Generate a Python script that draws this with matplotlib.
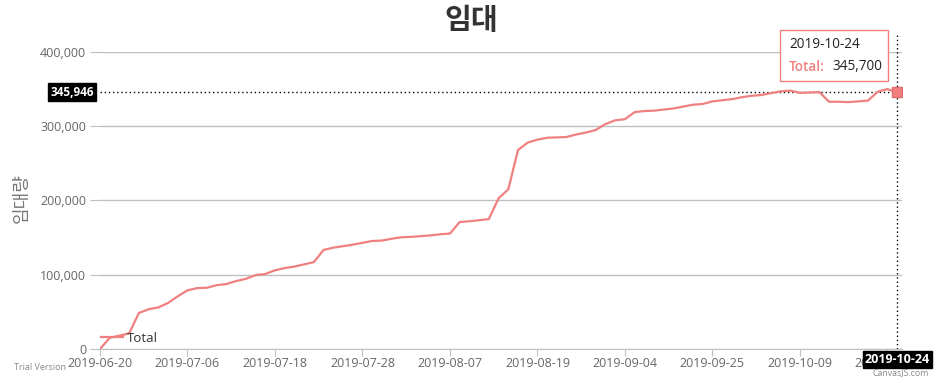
import matplotlib
matplotlib.use("Agg")
import matplotlib.pyplot as plt
from matplotlib.ticker import FuncFormatter
from matplotlib.patches import Rectangle
from matplotlib.transforms import blended_transform_factory

plt.rcParams['font.family'] = ['Open Sans', 'Noto Sans CJK KR', 'DejaVu Sans']

dates = [
    "2019-06-20", "2019-06-21", "2019-06-24", "2019-06-25", "2019-06-26", "2019-06-27",
    "2019-06-28", "2019-07-01", "2019-07-03", "2019-07-06",
    "2019-07-08", "2019-07-09", "2019-07-10", "2019-07-11", "2019-07-12", "2019-07-15",
    "2019-07-16", "2019-07-17", "2019-07-18",
    "2019-07-19", "2019-07-20", "2019-07-22", "2019-07-23", "2019-07-24", "2019-07-25",
    "2019-07-26", "2019-07-27", "2019-07-28",
    "2019-07-29", "2019-07-30", "2019-07-31", "2019-08-01", "2019-08-02", "2019-08-03",
    "2019-08-05", "2019-08-06", "2019-08-07",
    "2019-08-08", "2019-08-09", "2019-08-10", "2019-08-12", "2019-08-13", "2019-08-14",
    "2019-08-16", "2019-08-17", "2019-08-19",
    "2019-08-20", "2019-08-21", "2019-08-22", "2019-08-23", "2019-08-26", "2019-08-27",
    "2019-08-29", "2019-09-02", "2019-09-04",
    "2019-09-05", "2019-09-06", "2019-09-09", "2019-09-10", "2019-09-16", "2019-09-17",
    "2019-09-19", "2019-09-23", "2019-09-25",
    "2019-09-26", "2019-09-27", "2019-09-30", "2019-10-01", "2019-10-02", "2019-10-04",
    "2019-10-07", "2019-10-08", "2019-10-09",
    "2019-10-10", "2019-10-11", "2019-10-14", "2019-10-15", "2019-10-16", "2019-10-17",
    "2019-10-18", "2019-10-21", "2019-10-22",
    "2019-10-24",
]
total = [
    0, 15000, 18000, 21000, 48500, 53500, 56000, 62000, 71000, 79000,
    82000, 82500, 86000, 87500, 91500, 94500, 99500, 101000, 106000,
    109000, 111000, 114000, 117000, 133500, 136500, 138500, 140500, 143000,
    145500, 146000, 148500, 150500, 151000, 152000, 153000, 154500, 155500,
    171000, 172000, 173500, 175000, 203000, 215000, 268000, 278000, 282000,
    284500, 285000, 285500, 289000, 291500, 295000, 303000, 308000, 309500,
    319000, 320500, 321000, 322500, 324000, 326500, 329000, 330000, 333500,
    335000, 336500, 339000, 341000, 342000, 344500, 347000, 348000, 345000,
    345500, 346000, 333000, 333000, 332500, 333500, 334500, 346500, 350000,
    345700,
]
label_every = 9
cursor_value = 345946

line_color = '#F08080'
grid_color = '#c0c0c0'
text_gray = '#666666'

W, H = 940, 383
fig = plt.figure(figsize=(W / 100, H / 100), dpi=100)
ax = fig.add_axes([100 / W, 34 / H, 802 / W, 297 / H])

x = list(range(len(total)))
ax.plot(x, total, color=line_color, lw=1.6, label='Total', zorder=3)
last = len(total) - 1
ax.plot(last, total[-1], marker='s', ms=7, color=line_color, mec='#e36b6b', zorder=4)

ax.set_xlim(0, last + 0.5)
ax.set_ylim(0, 400000)
ax.set_yticks([0, 100000, 200000, 300000, 400000])
ax.yaxis.set_major_formatter(FuncFormatter(lambda v, p: f'{int(v):,}'))
ax.yaxis.grid(True, color=grid_color, lw=1)
ax.set_axisbelow(True)

tick_idx = list(range(0, len(dates), label_every))
ax.set_xticks(tick_idx)
ax.set_xticklabels([dates[i] for i in tick_idx])

for s in ['top', 'right', 'left']:
    ax.spines[s].set_visible(False)
ax.spines['bottom'].set_color(grid_color)
ax.tick_params(axis='y', length=7, color=grid_color, labelcolor=text_gray, labelsize=9, pad=3)
ax.tick_params(axis='x', length=5, color=grid_color, labelcolor=text_gray, labelsize=9, pad=1)

# crosshair
ax.axhline(cursor_value, color='black', ls=(0, (1, 2)), lw=1, zorder=2)
ax.axvline(last, ymin=0, ymax=(349 - 33) / 297, color='black', ls=(0, (1, 2)), lw=1,
           clip_on=False, zorder=2)
tr = blended_transform_factory(ax.transAxes, ax.transData)
ax.text(-6 / 802, cursor_value, f'{cursor_value:,}', transform=tr, ha='right', va='center',
        color='white', fontsize=8.5, fontweight='bold',
        bbox=dict(boxstyle='square,pad=0.2', fc='black', ec='black'), zorder=6)
ax.annotate(dates[-1], xy=(last, 0), xytext=(0, -3), textcoords='offset points',
            ha='center', va='top', color='white', fontsize=9, fontweight='bold',
            bbox=dict(boxstyle='square,pad=0.15', fc='black', ec='black'),
            annotation_clip=False, zorder=6)

# tooltip
fig.add_artist(Rectangle((780 / W, (H - 81) / H), 108 / W, 51 / H, transform=fig.transFigure,
                         fc='white', ec=line_color, lw=1, zorder=7))
fig.text(789 / W, (H - 45) / H, dates[-1], ha='left', va='center', fontsize=9.8,
         color='#222222', zorder=8)
fig.text(789 / W, (H - 67) / H, 'Total:', ha='left', va='center', fontsize=9.8,
         color=line_color, fontweight='semibold', zorder=8)
fig.text(832 / W, (H - 67) / H, f'{total[-1]:,}', ha='left', va='center', fontsize=9.8,
         color='#222222', zorder=8)

ax.legend(loc='center left', bbox_to_anchor=(94 / W, (H - 338) / H),
          bbox_transform=fig.transFigure, frameon=False, fontsize=9.5,
          handlelength=1.7, handletextpad=0.3, borderpad=0, labelcolor='#333333')

fig.text(471 / W, (H - 22) / H, '임대', ha='center', va='center', fontsize=21,
         fontweight='bold', color='#333333')
fig.text(22 / W, (H - 198) / H, '임대량', ha='center', va='center', rotation=90,
         fontsize=13, color='#777777')
fig.text(14 / W, (H - 368) / H, 'Trial Version', ha='left', va='center', fontsize=6.5,
         color='#888888')
fig.text(929 / W, (H - 373) / H, 'CanvasJS.com', ha='right', va='center', fontsize=6.3,
         color='#888888')

fig.savefig('out.png', dpi=100)
